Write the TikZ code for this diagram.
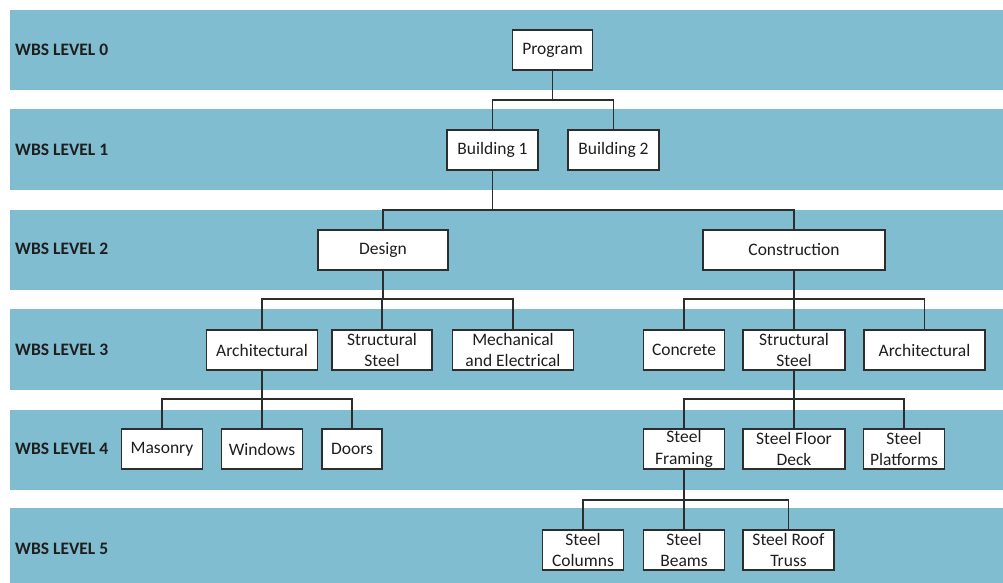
\documentclass[tikz,border=0pt]{standalone}
\usepackage{fontspec}
\setmainfont{Carlito}
\usetikzlibrary{calc}
\definecolor{band}{RGB}{129,189,208}
\definecolor{ink}{RGB}{30,30,30}
\definecolor{edge}{RGB}{45,45,45}
\begin{document}
\begin{tikzpicture}[x=1pt,y=-1pt,
  wbs/.style={draw=edge, line width=1.3pt, fill=white, text=ink,
    minimum height=40pt, inner sep=0pt, align=center,
    font=\fontsize{17.5}{21.5}\selectfont},
  lvl/.style={anchor=west, text=ink, inner sep=0pt,
    font=\fontsize{17.5}{21}\selectfont\bfseries},
  link/.style={draw=edge, line width=1.2pt}]
\useasboundingbox (0,0) rectangle (1003,583);
\fill[white] (0,0) rectangle (1003,583);

% level bands
\foreach \t/\b in {10/90, 109/190, 210/290, 309/390, 410/490, 508/583}
  \fill[band] (10,\t) rectangle (1003,\b);

% level labels
\node[lvl] (l0) at (15,50)  {WBS LEVEL 0};
\node[lvl] (l1) at (15,150) {WBS LEVEL 1};
\node[lvl] (l2) at (15,249) {WBS LEVEL 2};
\node[lvl] (l3) at (15,350) {WBS LEVEL 3};
\node[lvl] (l4) at (15,449) {WBS LEVEL 4};
\node[lvl] (l5) at (15,549) {WBS LEVEL 5};

% bus lines
\coordinate (bus1) at (0,100);
\coordinate (bus2) at (0,210);
\coordinate (bus3) at (0,299);
\coordinate (bus4) at (0,399);
\coordinate (bus5) at (0,500);

% level 0
\node[wbs, minimum width=80pt]  (prog)   at (552.5,50) {Program};
% level 1
\node[wbs, minimum width=91pt]  (b1)     at (492.5,150) {Building 1};
\node[wbs, minimum width=91pt]  (b2)     at (613.5,150) {Building 2};
% level 2
\node[wbs, minimum width=130pt] (design) at (383,250) {Design};
\node[wbs, minimum width=182pt] (constr) at (794,250) {Construction};
% level 3
\node[wbs, minimum width=111pt] (arch)   at (262,350) {Architectural};
\node[wbs, minimum width=100pt] (sst)    at (382,350) {Structural\\Steel};
\node[wbs, minimum width=121pt] (mech)   at (513,350) {Mechanical\\and Electrical};
\node[wbs, minimum width=81pt]  (conc)   at (684,350) {Concrete};
\node[wbs, minimum width=102pt] (sstb)   at (794,350) {Structural\\Steel};
\node[wbs, minimum width=121pt] (archb)  at (924.5,350) {Architectural};
% level 4
\node[wbs, minimum width=81pt]  (mas)    at (162,449) {Masonry};
\node[wbs, minimum width=81pt]  (win)    at (262,449) {Windows};
\node[wbs, minimum width=60pt]  (doors)  at (352,449) {Doors};
\node[wbs, minimum width=81pt]  (sfr)    at (684,449) {Steel\\Framing};
\node[wbs, minimum width=102pt] (sfd)    at (794,449) {Steel Floor\\Deck};
\node[wbs, minimum width=81pt]  (spl)    at (904,449) {Steel\\Platforms};
% level 5
\node[wbs, minimum width=81pt]  (scol)   at (583,550) {Steel\\Columns};
\node[wbs, minimum width=81pt]  (sbeam)  at (684,550) {Steel\\Beams};
\node[wbs, minimum width=91pt]  (sroof)  at (788.5,550) {Steel Roof\\Truss};

% connectors: parent down to bus, across, down to child
\foreach \p/\c/\bus in {prog/b1/bus1, prog/b2/bus1,
    b1/design/bus2, b1/constr/bus2,
    design/arch/bus3, design/sst/bus3, design/mech/bus3,
    constr/conc/bus3, constr/sstb/bus3, constr/archb/bus3,
    arch/mas/bus4, arch/win/bus4, arch/doors/bus4,
    sstb/sfr/bus4, sstb/sfd/bus4, sstb/spl/bus4,
    sfr/scol/bus5, sfr/sbeam/bus5, sfr/sroof/bus5}
  \draw[link] (\p.south) |- (\c.north |- \bus) -- (\c.north);
\end{tikzpicture}
\end{document}
